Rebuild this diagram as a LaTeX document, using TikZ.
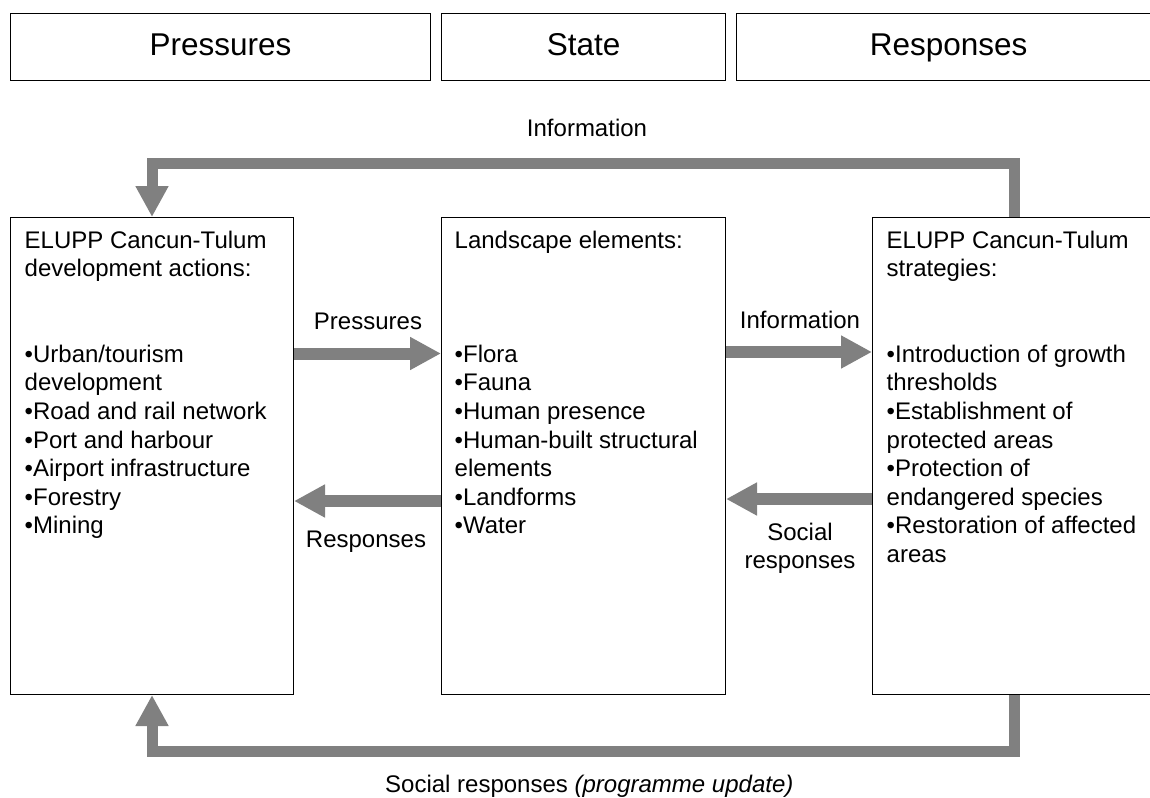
\documentclass[tikz,border=0pt]{standalone}
\usepackage{fontspec}
\setmainfont{Liberation Sans}
\usetikzlibrary{arrows.meta}
\definecolor{arrgray}{RGB}{128,128,128}
\tikzset{
  topbox/.style={draw=black, line width=1.2pt, inner sep=0pt, anchor=north west,
    minimum height=67pt, font=\fontsize{31.5}{36}\selectfont,
    text height=22.7pt, text depth=6.6pt},
  mainbox/.style={draw=black, line width=1pt, inner sep=0pt, anchor=north west,
    minimum width=283pt, minimum height=477pt},
  boxtext/.style={anchor=north west, inner sep=0pt, align=left,
    font=\fontsize{24}{28.6}\selectfont},
  lbl/.style={inner sep=0pt, font=\fontsize{24}{28.6}\selectfont},
  arr/.style={draw=arrgray, line width=12pt, -{Triangle[length=31pt,width=31pt]}},
  fb/.style={draw=arrgray, line width=11pt, line join=miter, -{Triangle[length=31pt,width=31pt]}},
}
\newcommand{\fst}{\rule{0pt}{20pt}}
\begin{document}
\begin{tikzpicture}[x=1pt,y=-1pt]
\clip (0,0) rectangle (1150,797);
\fill[white] (0,0) rectangle (1150,797);

% top category boxes
\node[topbox, minimum width=420pt] (tP) at (10,13) {Pressures};
\node[topbox, minimum width=284pt] (tS) at (441,13) {State};
\node[topbox, minimum width=424pt] (tR) at (736,13) {Responses};

% main boxes
\node[mainbox] (L) at (10,217) {};
\node[mainbox, minimum width=284pt] (M) at (441,217) {};
\node[mainbox] (R) at (872,217) {};

% texts in boxes
\node[boxtext] (Lh) at (24.5,228) {\fst ELUPP Cancun-Tulum\\development actions:};
\node[boxtext] (Lb) at (24.5,342) {\fst •Urban/tourism\\development\\•Road and rail network\\•Port and harbour\\•Airport infrastructure\\•Forestry\\•Mining};
\node[boxtext] (Mh) at (454.5,228) {\fst Landscape elements:};
\node[boxtext] (Mb) at (454.5,342) {\fst •Flora\\•Fauna\\•Human presence\\•Human-built structural\\elements\\•Landforms\\•Water};
\node[boxtext] (Rh) at (886.5,228) {\fst ELUPP Cancun-Tulum\\strategies:};
\node[boxtext] (Rb) at (886.5,342) {\fst •Introduction of growth\\thresholds\\•Establishment of\\protected areas\\•Protection of\\endangered species\\•Restoration of affected\\areas};

% horizontal arrows
\coordinate (yP) at (0,353.5);
\coordinate (yI) at (0,352);
\coordinate (yR) at (0,501);
\coordinate (yS) at (0,499);
\draw[arr] (L.east |- yP) -- (M.west |- yP);
\draw[arr] (M.east |- yI) -- (R.west |- yI);
\draw[arr] (M.west |- yR) -- (L.east |- yR);
\draw[arr] (R.west |- yS) -- (M.east |- yS);

\node[lbl, anchor=base] (lP) at (368,329) {Pressures};
\node[lbl, anchor=base] (lI) at (800,328) {Information};
\node[lbl, anchor=base] (lR) at (366,547) {Responses};
\node[lbl, anchor=north, align=center] (lS) at (800,520) {\fst Social\\responses};

% feedback loops
\coordinate (ty) at (0,163.5);
\coordinate (by) at (0,751);
\draw[fb] (R.north) -- (R.north |- ty) -- (L.north |- ty) -- (L.north);
\draw[fb] (R.south) -- (R.south |- by) -- (L.south |- by) -- (L.south);

\node[lbl, anchor=base] (lTop) at (587,136) {Information};
\node[lbl, anchor=base west] (lBot) at (385,792) {Social responses \textit{(programme update)}};
\end{tikzpicture}
\end{document}
